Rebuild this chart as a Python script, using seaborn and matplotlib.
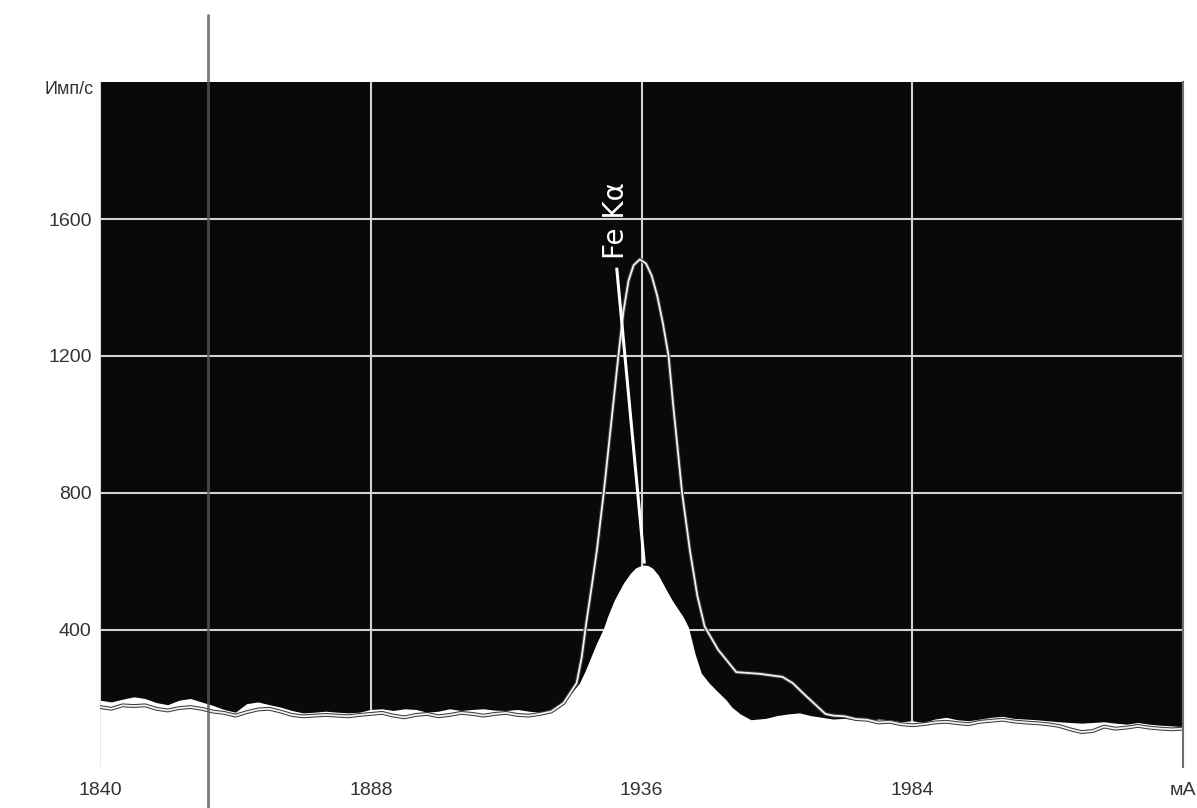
import numpy as np
import pandas as pd
import matplotlib
matplotlib.use("Agg")
import matplotlib.pyplot as plt
import matplotlib.patheffects as pe
from matplotlib.lines import Line2D
import seaborn as sns

# ---------------- data ----------------
# filled spectrum (white area under the curve)
filled_x = [1840, 1842, 1844, 1846, 1848, 1850, 1852, 1854, 1856, 1858, 1860, 1862, 1864,
            1866, 1868, 1870, 1872, 1874, 1876, 1878, 1880, 1882, 1884, 1886, 1888, 1890,
            1892, 1894, 1896, 1898, 1900, 1902, 1904, 1906, 1908, 1910, 1912, 1914, 1916,
            1918, 1920, 1922, 1923, 1924, 1925, 1926, 1927, 1928, 1929.3, 1930, 1931.2,
            1932.8, 1934, 1935, 1936.3, 1937.2, 1938, 1939, 1940.4, 1941.5, 1943.4, 1944.3,
            1944.9, 1945.5, 1946.6, 1948, 1949.5, 1951, 1952, 1953.5, 1955.4, 1958, 1960,
            1962, 1964, 1966, 1968, 1970, 1972, 1974, 1976, 1978, 1980, 1982, 1984, 1986,
            1988, 1990, 1992, 1994, 1996, 1998, 2000, 2002, 2004, 2006, 2008, 2010, 2012,
            2014, 2016, 2018, 2020, 2022, 2024, 2026, 2028, 2030, 2032]
filled_y = [195, 190, 198, 205, 200, 188, 182, 195, 200, 190, 180, 168, 160,
            185, 190, 182, 175, 165, 158, 160, 163, 160, 158, 160, 168, 170,
            165, 170, 168, 160, 163, 170, 165, 168, 170, 166, 165, 168, 163,
            160, 168, 187, 205, 225, 245, 280, 320, 360, 406, 440, 488,
            537, 565, 582, 590, 588, 580, 560, 517, 485, 438, 409,
            370, 330, 274, 245, 220, 196, 175, 155, 138, 142, 150,
            155, 158, 150, 145, 140, 142, 138, 135, 140, 138, 132, 135, 130,
            140, 145, 138, 135, 140, 145, 148, 142, 140, 138, 135, 132, 130,
            128, 130, 132, 128, 125, 130, 125, 122, 120, 118]

# second spectrum (thin line)
line_x = [1840, 1842, 1844, 1846, 1848, 1850, 1852, 1854, 1856, 1858, 1860, 1862, 1864,
          1866, 1868, 1870, 1872, 1874, 1876, 1878, 1880, 1882, 1884, 1886, 1888, 1890,
          1892, 1894, 1896, 1898, 1900, 1902, 1904, 1906, 1908, 1910, 1912, 1914, 1916,
          1918, 1920, 1922.2, 1924.5, 1925.4, 1926.2, 1927.2, 1928.1, 1929.3, 1930.6,
          1931.9, 1932.8, 1933.7, 1934.6, 1935.7, 1936.8, 1937.8, 1938.8, 1939.8, 1940.8,
          1941.6, 1942.4, 1943.2, 1944.6, 1945.9, 1947.2, 1949.6, 1952.8, 1957, 1961,
          1962.8, 1965, 1968.6, 1970, 1972, 1974, 1976, 1978, 1980, 1982, 1984, 1986,
          1988, 1990, 1992, 1994, 1996, 1998, 2000, 2002, 2004, 2006, 2008, 2010, 2012,
          2014, 2016, 2018, 2020, 2022, 2024, 2026, 2028, 2030, 2032]
line_y = [175, 170, 180, 178, 180, 170, 165, 172, 175, 170, 162, 158, 150,
          160, 168, 170, 162, 152, 148, 150, 152, 150, 148, 152, 155, 158,
          150, 145, 152, 155, 148, 152, 158, 155, 150, 155, 158, 152, 150,
          155, 162, 187, 245, 320, 420, 530, 634, 800, 1000,
          1200, 1330, 1420, 1465, 1482, 1470, 1435, 1375, 1295, 1200,
          1060, 930, 800, 630, 500, 410, 342, 277, 272, 263,
          245, 210, 155, 150, 148, 140, 138, 130, 132, 125, 122, 125,
          130, 132, 128, 125, 132, 135, 138, 133, 130, 128, 125, 120, 110,
          102, 105, 118, 112, 115, 120, 115, 112, 110, 112]

# Fe Ka marker line (from label down to peak top)
marker_x = [1931.6, 1936.5]
marker_y = [1458, 594]
marker_label = "Fe Kα"

x_ticks = [1840, 1888, 1936, 1984, 2032]
x_tick_labels = ["1840", "1888", "1936", "1984", "мА"]
y_ticks = [400, 800, 1200, 1600]
y_tick_labels = ["400", "800", "1200", "1600"]
y_unit = "Имп/с"

# ---------------- plot ----------------
sns.set_style("white")
plt.rcParams["font.family"] = ["Liberation Sans", "DejaVu Sans"]

W, H = 1197, 808
fig = plt.figure(figsize=(W / 100, H / 100), dpi=100)
fig.patch.set_facecolor("white")
ax = fig.add_axes([100 / W, 1 - 767 / H, 1083 / W, (767 - 82) / H])
ax.set_facecolor("#0a0808")

ax.set_xlim(1840, 2032)
ax.set_ylim(0, 2000)

ax.set_axisbelow(True)
ax.grid(True, color="#d2d2d2", linewidth=1.5)

df_fill = pd.DataFrame({"x": filled_x, "y": filled_y})
ax.fill_between(df_fill["x"], 0, df_fill["y"], color="white", linewidth=0, zorder=1)

df_line = pd.DataFrame({"x": line_x, "y": line_y})
sns.lineplot(data=df_line, x="x", y="y", ax=ax, color="#f2f2f2", linewidth=1.3,
             zorder=3, path_effects=[pe.Stroke(linewidth=2.8, foreground="#3c3c3c"), pe.Normal()])

ax.plot(marker_x, marker_y, color="white", linewidth=2.2, zorder=4, solid_capstyle="butt")
ax.text(marker_x[0] - 0.2, marker_y[0] + 25, marker_label, rotation=90, color="white",
        fontsize=20, family=["DejaVu Sans"], ha="center", va="bottom", zorder=5)

ax.set_xticks(x_ticks)
ax.set_xticklabels(x_tick_labels)
ax.set_yticks(y_ticks)
ax.set_yticklabels(y_tick_labels)
ax.tick_params(axis="both", length=0, labelsize=14, colors="#333333")
ax.tick_params(axis="x", pad=11)
ax.tick_params(axis="y", pad=6)
ax.set_xlabel("")
ax.set_ylabel("")

ax.text(-0.006, 1.0 - 8 / 685, y_unit, transform=ax.transAxes, ha="right", va="center",
        fontsize=13, color="#333333")

for s in ["left", "top", "bottom"]:
    ax.spines[s].set_visible(False)
ax.spines["right"].set_visible(True)
ax.spines["right"].set_color("#707070")
ax.spines["right"].set_linewidth(1.5)
ax.spines["right"].set_zorder(6)

# scan fold line
fig.add_artist(Line2D([208 / W, 208 / W], [0, 1 - 15 / H], transform=fig.transFigure,
                      color="#5a5a5a", linewidth=2, zorder=10, alpha=0.8))

fig.savefig("out.png", dpi=100, facecolor="white")
